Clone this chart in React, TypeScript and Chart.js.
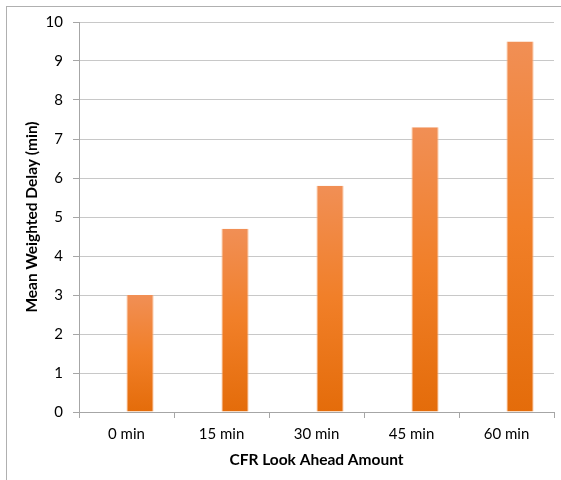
import React, { useEffect, useRef } from "react";
import { Chart, registerables } from "chart.js";

Chart.register(...registerables);

const categories = ["0 min", "15 min", "30 min", "45 min", "60 min"];
const delays = [3.0, 4.7, 5.8, 7.3, 9.5];
const placeholder = [null, null, null, null, null];
const yTicks = [0, 1, 2, 3, 4, 5, 6, 7, 8, 9, 10];

const FONT = "Lato, 'Open Sans', sans-serif";

export default function App() {
  const canvasRef = useRef<HTMLCanvasElement | null>(null);

  useEffect(() => {
    const canvas = canvasRef.current;
    if (!canvas) return;

    // Vertical gradient per bar: lighter at the top, deeper orange at the base
    const barFill = (ctx: any) => {
      const chart = ctx.chart;
      const area = chart.chartArea;
      const yScale = chart.scales?.y;
      if (!area || !yScale || ctx.raw == null) return "#f07f2a";
      const top = yScale.getPixelForValue(ctx.raw as number);
      const bottom = yScale.getPixelForValue(0);
      const g = chart.ctx.createLinearGradient(0, top, 0, bottom);
      g.addColorStop(0, "#f18f55");
      g.addColorStop(0.5, "#f17f28");
      g.addColorStop(1, "#e46c0a");
      return g;
    };

    const chart = new Chart(canvas, {
      type: "bar",
      data: {
        labels: categories,
        datasets: [
          { label: "", data: placeholder as any, backgroundColor: "rgba(0,0,0,0)" },
          {
            label: "Mean Weighted Delay",
            data: delays,
            backgroundColor: barFill,
            borderColor: "#f7b283",
            borderWidth: { left: 1, right: 1, top: 0, bottom: 0 } as any,
            borderSkipped: false,
          },
        ],
      },
      options: {
        responsive: false,
        animation: false,
        maintainAspectRatio: false,
        layout: { padding: { top: 22, right: 7, left: 0, bottom: 0 } },
        datasets: {
          bar: { categoryPercentage: 0.57, barPercentage: 1 },
        },
        plugins: {
          legend: { display: false },
          tooltip: { enabled: false },
          title: { display: false },
        },
        scales: {
          x: {
            offset: true,
            grid: {
              drawOnChartArea: false,
              drawTicks: true,
              tickLength: 6,
              color: "#a6a6a6",
            },
            border: { display: true, color: "#a6a6a6" },
            ticks: {
              color: "#000000",
              font: { family: FONT, size: 15 },
              padding: 7,
              maxRotation: 0,
            },
            title: {
              display: true,
              text: "CFR Look Ahead Amount",
              color: "#000000",
              font: { family: FONT, size: 15.5, weight: "bold" },
              padding: { top: 4, bottom: 11 },
            },
            afterFit: (scale: any) => {
              scale.height = 68;
            },
          },
          y: {
            min: 0,
            max: 10,
            afterBuildTicks: (scale: any) => {
              scale.ticks = yTicks.map((v) => ({ value: v }));
            },
            grid: {
              color: "#c8c8c8",
              tickLength: 6,
              tickColor: "#a6a6a6",
            },
            border: { display: true, color: "#a6a6a6" },
            ticks: {
              color: "#000000",
              font: { family: FONT, size: 15 },
              padding: 10,
            },
            title: {
              display: true,
              text: "Mean Weighted Delay (min)",
              color: "#000000",
              font: { family: FONT, size: 15.5, weight: "bold" },
              padding: { top: 23, bottom: 4 },
            },
            afterFit: (scale: any) => {
              scale.width = 79;
            },
          },
        },
      },
    });

    return () => chart.destroy();
  }, []);

  return (
    <div
      style={{
        position: "fixed",
        left: 0,
        top: 0,
        width: 561,
        height: 480,
        background: "#ffffff",
        overflow: "hidden",
      }}
    >
      <div
        style={{
          position: "absolute",
          left: 6,
          top: 6,
          width: 620,
          height: 520,
          border: "1px solid #b0b0b0",
        }}
      />
      <canvas
        ref={canvasRef}
        width={561}
        height={480}
        style={{ position: "absolute", left: 0, top: 0, width: 561, height: 480 }}
      />
    </div>
  );
}
